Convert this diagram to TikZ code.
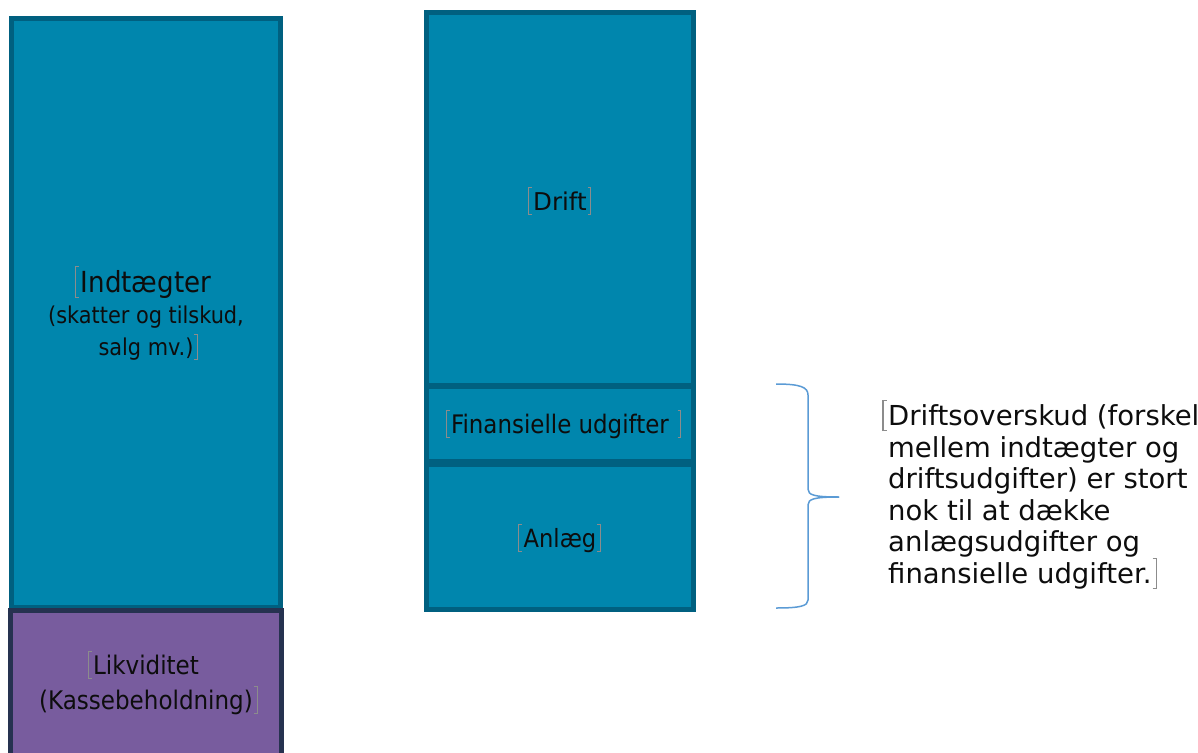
\documentclass[tikz,border=0pt]{standalone}
\usepackage{fontspec}
\setmainfont{DejaVu Sans}
\newfontfamily\condfont{DejaVu Sans Condensed}
\usepackage{tikz}
\usetikzlibrary{positioning}
\definecolor{tealfill}{RGB}{0,134,173}
\definecolor{tealedge}{RGB}{0,96,128}
\definecolor{purplefill}{RGB}{120,92,158}
\definecolor{purpleedge}{RGB}{38,50,80}
\definecolor{bracecol}{RGB}{91,155,213}
\definecolor{markgray}{RGB}{140,140,140}
\definecolor{inkblack}{RGB}{13,13,13}
\newcommand\lmark{\llap{\color{markgray}\rule[-.2em]{.04em}{1.12em}\rule[-.2em]{.11em}{.04em}\kern-.11em\rule[.88em]{.11em}{.04em}\kern.06em}}
\newcommand\rmark{\rlap{\color{markgray}\kern.04em\rule[-.2em]{.11em}{.04em}\kern-.11em\rule[.88em]{.11em}{.04em}\rule[-.2em]{.04em}{1.12em}}}
\tikzset{
bar/.style={draw=tealedge, fill=tealfill, line width=5pt, outer sep=0pt, inner sep=0pt,
  align=center, text=inkblack},
cash/.style={bar, draw=purpleedge, fill=purplefill},
note/.style={inner sep=0pt, align=left, text=inkblack, font=\fontsize{27.5}{31.6}\selectfont},
brace/.style={draw=bracecol, line width=1.5pt}
}

\begin{document}
\begin{tikzpicture}[x=1pt,y=-1pt]
\useasboundingbox (0,0) rectangle (1198,752);
\node[bar, minimum width=269pt, minimum height=588.5pt,
  font=\condfont\fontsize{23.2}{31.5}\selectfont] (indt) at (146,312.75)
  {{\fontsize{29}{31.5}\selectfont\lmark Indtægter}\\(skatter og tilskud,\\salg mv.)\rmark};
\node[cash, minimum width=271pt, minimum height=145pt, below=3pt of indt,
  font=\condfont\fontsize{25.6}{35}\selectfont] (likv)
  {\lmark Likviditet\\(Kassebeholdning)\rmark};
\node[bar, minimum width=267pt, minimum height=373pt, text height=22pt, text depth=0pt,
  font=\fontsize{24.5}{30}\selectfont] (drift) at (560,199) {\lmark Drift\rmark};
\node[bar, minimum width=267pt, minimum height=75pt, below=1pt of drift,
  font=\condfont\fontsize{25.5}{30}\selectfont] (finans)
  {\lmark Finansielle udgifter\rlap{\hspace{.3em}\rmark}};
\node[bar, minimum width=267pt, minimum height=145pt, below=3pt of finans,
  text height=23pt, text depth=3pt,
  font=\condfont\fontsize{25.1}{30}\selectfont] (anlaeg) {\lmark Anlæg\rmark};
\node[note, anchor=north west] (overskud) at (888,400)
  {\lmark Driftsoverskud (forskel\\mellem indtægter og\\driftsudgifter) er stort\\nok til at dække\\anlægsudgifter og\\finansielle udgifter.\rmark};
\coordinate (bracetop) at (776,384);
\coordinate (bracetip) at (839,497);
\coordinate (bracebot) at (776,608);
\draw[brace] (bracetop) .. controls (800,384) and (808,387) .. (808,395) -- (808,489)
  .. controls (808,495) and (814,497) .. (bracetip);
\draw[brace] (bracetip) .. controls (814,497) and (808,499) .. (808,505) -- (808,600)
  .. controls (808,606) and (800,608) .. (bracebot);
\end{tikzpicture}
\end{document}
